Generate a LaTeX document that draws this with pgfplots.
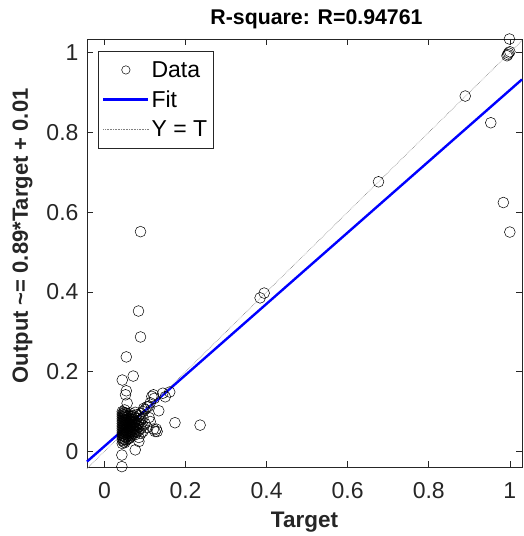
\documentclass[border=0pt]{standalone}
\usepackage{pgfplots}
\pgfplotsset{compat=1.18}
\usepackage{fontspec}
\setmainfont{Liberation Sans}
\definecolor{axgray}{gray}{0.15}

\begin{document}
\begin{tikzpicture}
\begin{axis}[
    scale only axis,
    width=435pt,
    height=428pt,
    xmin=-0.043, xmax=1.03,
    ymin=-0.039, ymax=1.034,
    xtick={0,0.2,0.4,0.6,0.8,1},
    ytick={0,0.2,0.4,0.6,0.8,1},
    tick align=inside,
    major tick length=6pt,
    axis line style={axgray, line width=0.6pt},
    every tick/.style={axgray, line width=0.6pt},
    /pgf/number format/assume math mode=true,
    tick label style={font=\fontsize{23}{27}\selectfont, text=axgray},
    xticklabel style={yshift=-12pt},
    yticklabel style={xshift=-5pt},
    label style={font=\fontsize{22.5}{27}\selectfont\bfseries, text=axgray},
    xlabel style={yshift=-6.5pt},
    ylabel style={at={(ticklabel cs:0.54,7pt)}, font=\fontsize{22}{26}\selectfont\bfseries},
    title style={font=\fontsize{21.3}{25}\selectfont\bfseries, text=black, xshift=12pt, yshift=1pt},
    title={R-square: R=0.94761},
    xlabel={Target},
    ylabel={Output \textasciitilde= 0.89*Target + 0.01},
    legend style={
        at={(0.025,0.972)}, anchor=north west,
        draw=axgray, line width=0.6pt,
        font=\fontsize{23}{27}\selectfont,
        inner xsep=4pt, inner ysep=8pt,
        row sep=8pt,
    },
    legend cell align=left,
    clip=false,
]
% data points (Target, Output)
\addplot[only marks, mark=o, mark size=5.4pt, draw=black, line width=0.5pt,
    legend image code/.code={\draw[black, line width=0.5pt] (22.5pt,0pt) circle (4.2pt);}]
coordinates {
(0.044,0.020) (0.044,0.028) (0.044,0.034) (0.044,0.040) (0.044,0.046) (0.044,0.052)
(0.044,0.058) (0.044,0.064) (0.044,0.070) (0.044,0.076) (0.044,0.082) (0.044,0.088)
(0.044,0.094) (0.044,0.100)
(0.047,0.024) (0.047,0.031) (0.047,0.038) (0.047,0.044) (0.047,0.050) (0.047,0.056)
(0.047,0.062) (0.047,0.068) (0.047,0.074) (0.047,0.080) (0.047,0.086) (0.047,0.092)
(0.047,0.098)
(0.050,0.022) (0.050,0.030) (0.050,0.037) (0.050,0.043) (0.050,0.049) (0.050,0.055)
(0.050,0.061) (0.050,0.067) (0.050,0.073) (0.050,0.079) (0.050,0.085) (0.050,0.091)
(0.050,0.097) (0.050,0.104)
(0.053,0.027) (0.053,0.035) (0.053,0.042) (0.053,0.048) (0.053,0.054) (0.053,0.060)
(0.053,0.066) (0.053,0.072) (0.053,0.078) (0.053,0.084) (0.053,0.090) (0.053,0.096)
(0.056,0.030) (0.056,0.038) (0.056,0.045) (0.056,0.051) (0.056,0.057) (0.056,0.063)
(0.056,0.069) (0.056,0.075) (0.056,0.081) (0.056,0.087) (0.056,0.095)
(0.060,0.032) (0.060,0.040) (0.060,0.047) (0.060,0.053) (0.060,0.059) (0.060,0.065)
(0.060,0.071) (0.060,0.077) (0.060,0.083) (0.060,0.090)
(0.064,0.036) (0.064,0.044) (0.064,0.050) (0.064,0.056) (0.064,0.062) (0.064,0.068)
(0.064,0.074) (0.064,0.080) (0.064,0.088) (0.064,0.096)
(0.068,0.040) (0.068,0.048) (0.068,0.055) (0.068,0.061) (0.068,0.067) (0.068,0.073)
(0.068,0.080) (0.068,0.088)
(0.072,0.045) (0.072,0.053) (0.072,0.060) (0.072,0.066) (0.072,0.072) (0.072,0.080)
(0.072,0.090)
(0.076,0.042) (0.076,0.050) (0.076,0.058) (0.076,0.065) (0.076,0.075) (0.076,0.085)
(0.076,0.098)
(0.080,0.048) (0.080,0.056) (0.080,0.064) (0.080,0.072) (0.080,0.082) (0.080,0.092)
(0.085,0.035) (0.085,0.052) (0.085,0.062) (0.085,0.070) (0.085,0.078) (0.085,0.090)
(0.090,0.045) (0.090,0.058) (0.090,0.068) (0.090,0.080) (0.090,0.095)
(0.095,0.050) (0.095,0.065) (0.095,0.085) (0.095,0.100)
(0.100,0.070) (0.105,0.060) (0.110,0.085) (0.100,0.105) (0.108,0.112)
(0.097,0.108) (0.105,0.112) (0.113,0.122) (0.123,0.133) (0.117,0.138)
(0.121,0.142) (0.144,0.146) (0.161,0.149) (0.150,0.137) (0.134,0.102)
(0.113,0.075) (0.121,0.056) (0.128,0.056) (0.125,0.050) (0.130,0.050)
(0.174,0.072) (0.236,0.066)
(0.043,-0.038) (0.043,-0.009) (0.076,0.004) (0.085,0.025)
(0.052,0.142) (0.054,0.152) (0.056,0.121) (0.044,0.179) (0.071,0.189)
(0.054,0.237) (0.089,0.287) (0.084,0.352) (0.089,0.551)
(0.384,0.385) (0.394,0.397) (0.676,0.676)
(0.890,0.891) (0.953,0.824) (0.984,0.624) (1.000,0.550)
(0.999,1.034) (0.997,0.999) (0.995,0.995) (1.000,1.002) (0.993,0.992)
};
\addlegendentry{Data}
% fit line
\addplot[blue, line width=2.4pt,
    legend image code/.code={\draw[blue, line width=2.4pt] (0pt,0pt) -- (45pt,0pt);}]
    coordinates {(-0.043,-0.0254) (1.03,0.9327)};
\addlegendentry{Fit}
% Y = T
\addplot[gray, densely dotted, line width=0.6pt,
    legend image code/.code={\draw[gray, densely dotted, line width=0.6pt] (0pt,0pt) -- (45pt,0pt);}]
    coordinates {(-0.043,-0.043) (1.03,1.03)};
\addlegendentry{Y = T}
\end{axis}
\pgfresetboundingbox
\path ([shift={(-87pt,-69pt)}]current axis.south west) rectangle ([shift={(1pt,39pt)}]current axis.north east);
\end{tikzpicture}
\end{document}
